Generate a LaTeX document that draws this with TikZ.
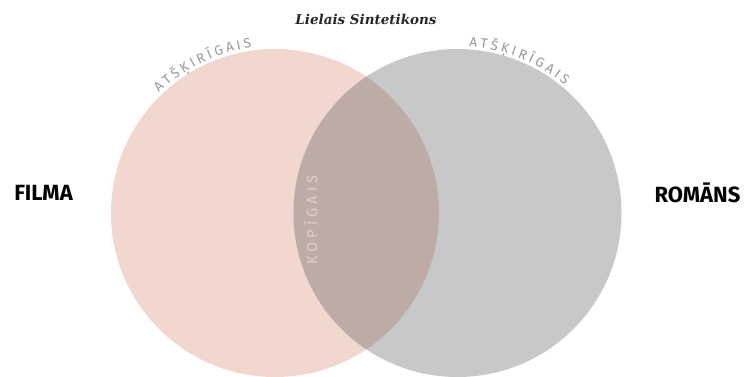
\documentclass[tikz,border=0pt]{standalone}
\usepackage{fontspec}
\setmainfont{DejaVu Serif}
\newfontfamily\headfont{Fira Sans}
\newfontfamily\arcfont{Fira Sans}
\newfontfamily\kopfont[LetterSpace=28]{Fira Sans}
\usetikzlibrary{decorations.text}
\definecolor{pinkc}{RGB}{242,215,206}
\definecolor{grayc}{RGB}{199,200,202}
\definecolor{overc}{RGB}{189,172,166}
\definecolor{arcgray}{RGB}{150,152,156}
\definecolor{kopc}{RGB}{218,209,205}
\tikzset{
  setlabel/.style={font=\headfont\bfseries\fontsize{22}{22}\selectfont, text=black, inner sep=0pt},
  arclabel/.style={decorate, decoration={text along path, text align=fit to path,
      text={|\arcfont\fontsize{13.5}{14}\selectfont\color{arcgray}|ATŠĶIRĪGAIS}}},
}
\begin{document}
\begin{tikzpicture}[x=1pt,y=1pt]
\useasboundingbox (0,0) rectangle (749,376);
\coordinate (cL) at (275,163);
\coordinate (cR) at (457.5,163);
\fill[pinkc] (cL) circle[radius=164];
\fill[grayc] (cR) circle[radius=164];
\begin{scope}
  \clip (cL) circle[radius=164];
  \fill[overc] (cR) circle[radius=164];
\end{scope}
\node[font=\bfseries\itshape\fontsize{13.5}{14}\selectfont, text=black!85, inner sep=0pt] (title) at (366,357) {Lielais Sintetikons};
\node[setlabel] (filma) at (43.5,183) {FILMA};
\node[setlabel] (romans) at (697.5,183) {ROMĀNS};
\path[arclabel] (cL) ++(134:167) arc[start angle=134, end angle=98, radius=167];
\path[arclabel] (cR) ++(86:167) arc[start angle=86, end angle=50, radius=167];
\node[rotate=90, font=\kopfont\fontsize{14.5}{15}\selectfont, text=kopc, inner sep=0pt] (kop) at (311,156) {KOPĪGAIS};
\end{tikzpicture}
\end{document}
